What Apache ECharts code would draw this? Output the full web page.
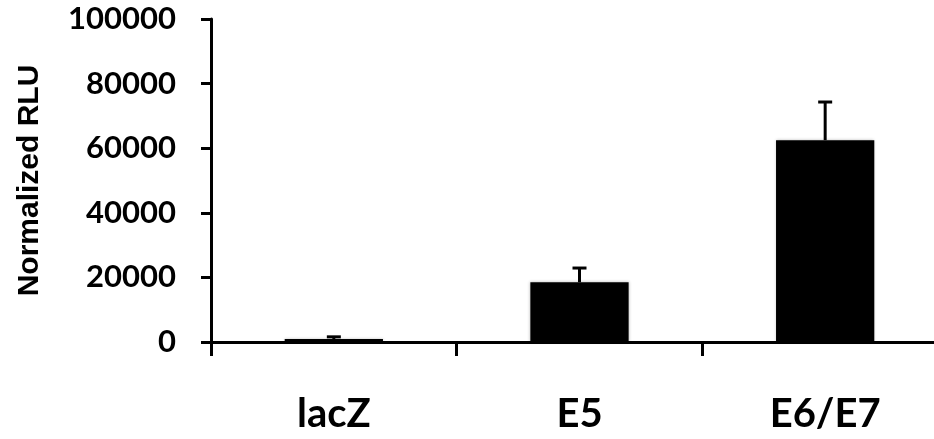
<!DOCTYPE html>
<html>
<head>
<meta charset="utf-8">
<script src="https://cdn.jsdelivr.net/npm/echarts@6/dist/echarts.min.js"></script>
<style>
  html, body { margin: 0; padding: 0; background: #fff; }
  #chart { width: 934px; height: 439px; }
</style>
</head>
<body>
<div id="chart"></div>
<script>
// values
var categories = ['lacZ', 'E5', 'E6/E7'];
var means = [900, 18500, 62500];
var errUp = [700, 4400, 11800];
var yTicks = [0, 20000, 40000, 60000, 80000, 100000];

var errData = categories.map(function (c, i) {
  return [i, means[i], means[i] + errUp[i]];
});

var chart = echarts.init(document.getElementById('chart'));

var option = {
  backgroundColor: '#fff',
  animation: false,
  grid: { left: 211, top: 19, height: 323, width: 737, outerBoundsMode: 'none' },
  xAxis: {
    type: 'category',
    data: categories,
    axisLine: { show: true, lineStyle: { color: '#000', width: 3 } },
    axisTick: { show: true, length: 14, lineStyle: { color: '#000', width: 3 } },
    axisLabel: {
      margin: 52,
      color: '#000',
      fontFamily: 'Lato',
      fontWeight: 'bold',
      fontSize: 40
    },
    splitLine: { show: false }
  },
  yAxis: {
    type: 'value',
    min: yTicks[0],
    max: yTicks[yTicks.length - 1],
    interval: 20000,
    name: 'Normalized RLU',
    nameLocation: 'middle',
    nameGap: 166,
    nameTextStyle: {
      color: '#000',
      fontFamily: 'Liberation Sans',
      fontWeight: 'bold',
      fontSize: 30
    },
    axisLine: { show: true, lineStyle: { color: '#000', width: 3 } },
    axisTick: { show: true, length: 10, lineStyle: { color: '#000', width: 3 } },
    axisLabel: {
      margin: 35,
      color: '#000',
      fontFamily: 'Lato',
      fontWeight: 'bold',
      fontSize: 31,
      formatter: function (v) { return String(v); }
    },
    splitLine: { show: false }
  },
  series: [
    {
      type: 'bar',
      data: means,
      barWidth: '40%',
      itemStyle: {
        color: '#000',
        shadowColor: 'rgba(0,0,0,0.25)',
        shadowBlur: 3
      },
      z: 2
    },
    {
      type: 'custom',
      data: errData,
      z: 3,
      renderItem: function (params, api) {
        var base = api.coord([api.value(0), api.value(1)]);
        var top = api.coord([api.value(0), api.value(2)]);
        var capHalf = 7;
        var style = { stroke: '#000', lineWidth: 3 };
        return {
          type: 'group',
          children: [
            { type: 'line', shape: { x1: base[0], y1: base[1], x2: top[0], y2: top[1] }, style: style },
            { type: 'line', shape: { x1: top[0] - capHalf, y1: top[1], x2: top[0] + capHalf, y2: top[1] }, style: style }
          ]
        };
      }
    }
  ]
};

chart.setOption(option);
</script>
</body>
</html>
